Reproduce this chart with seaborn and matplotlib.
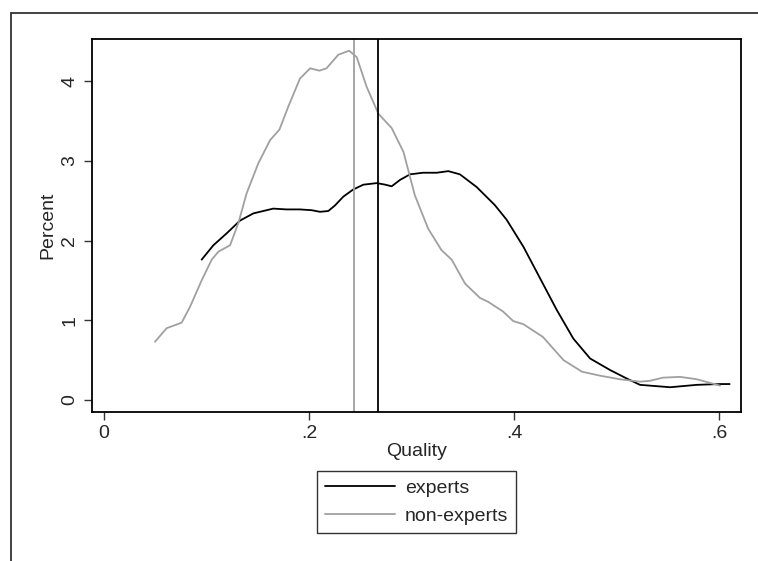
import numpy as np
import pandas as pd
import matplotlib
matplotlib.use('Agg')
import matplotlib.pyplot as plt
from matplotlib.lines import Line2D
import seaborn as sns

# --- values ---
experts_quality = [0.0952, 0.1066, 0.1196, 0.1326, 0.1456, 0.165, 0.178, 0.191, 0.2025,
                   0.2106, 0.2187, 0.2252, 0.2333, 0.243, 0.2528, 0.266, 0.2743, 0.2805,
                   0.2886, 0.2984, 0.311, 0.3244, 0.3357, 0.347, 0.3634, 0.381, 0.3926,
                   0.409, 0.425, 0.4414, 0.4576, 0.474, 0.4934, 0.5096, 0.5226, 0.552,
                   0.578, 0.6006, 0.61]
experts_percent = [1.76, 1.94, 2.09, 2.25, 2.34, 2.40, 2.39, 2.39, 2.38,
                   2.36, 2.37, 2.44, 2.55, 2.64, 2.70, 2.72, 2.70, 2.68,
                   2.76, 2.83, 2.85, 2.85, 2.87, 2.83, 2.67, 2.445, 2.26,
                   1.92, 1.53, 1.13, 0.77, 0.52, 0.376, 0.27, 0.19, 0.16,
                   0.19, 0.20, 0.20]

nonexp_quality = [0.0497, 0.061, 0.0757, 0.0839, 0.0952, 0.105, 0.1115, 0.1229, 0.131,
                  0.139, 0.1505, 0.162, 0.171, 0.1797, 0.191, 0.201, 0.21, 0.217,
                  0.2285, 0.239, 0.2464, 0.256, 0.2675, 0.2805, 0.292, 0.303, 0.316,
                  0.329, 0.339, 0.352, 0.3666, 0.3747, 0.389, 0.399, 0.409, 0.428,
                  0.448, 0.466, 0.4836, 0.503, 0.5226, 0.532, 0.545, 0.5616, 0.578,
                  0.6006]
nonexp_percent = [0.73, 0.90, 0.97, 1.17, 1.50, 1.76, 1.86, 1.94, 2.22,
                  2.59, 2.97, 3.26, 3.39, 3.68, 4.03, 4.16, 4.13, 4.16,
                  4.33, 4.38, 4.30, 3.93, 3.59, 3.41, 3.11, 2.57, 2.15,
                  1.88, 1.76, 1.46, 1.28, 1.23, 1.11, 0.99, 0.95, 0.79,
                  0.50, 0.355, 0.305, 0.26, 0.23, 0.24, 0.28, 0.29, 0.26,
                  0.18]

groups = ['experts', 'non-experts']
group_medians = [0.2675, 0.2438]
x_ticks = [0, 0.2, 0.4, 0.6]
x_tick_labels = ['0', '.2', '.4', '.6']
y_ticks = [0, 1, 2, 3, 4]

colors = {'experts': 'black', 'non-experts': '#a0a0a0'}

df = pd.concat([
    pd.DataFrame({'Quality': experts_quality, 'Percent': experts_percent, 'group': 'experts'}),
    pd.DataFrame({'Quality': nonexp_quality, 'Percent': nonexp_percent, 'group': 'non-experts'}),
], ignore_index=True)

sns.set_style('white')
plt.rcParams['font.family'] = ['Liberation Sans', 'DejaVu Sans']

fig = plt.figure(figsize=(7.58, 5.61), dpi=100)
ax = fig.add_axes([0.1214, 0.2661, 0.8566, 0.6638])

sns.lineplot(data=df, x='Quality', y='Percent', hue='group', palette=colors,
             linewidth=1.3, ax=ax, legend=False, estimator=None, sort=False)

for g, m in zip(groups, group_medians):
    ax.axvline(m, color=colors[g], linewidth=1.3)

ax.set_xlim(-0.0117, 0.6214)
ax.set_ylim(-0.147, 4.523)
ax.set_xticks(x_ticks)
ax.set_xticklabels(x_tick_labels)
ax.set_yticks(y_ticks)
ax.set_yticklabels([str(v) for v in y_ticks], rotation=90, va='center')
ax.tick_params(axis='both', which='major', direction='out', length=6, width=1,
               color='#333333', labelsize=14, bottom=True, left=True)
ax.tick_params(axis='y', pad=4)
ax.tick_params(axis='x', pad=3.5)
ax.set_xlabel('Quality', fontsize=14, labelpad=1)
ax.set_ylabel('Percent', fontsize=14, va='center')
ax.yaxis.set_label_coords(-0.068, 0.5)
for s in ax.spines.values():
    s.set_color('black')
    s.set_linewidth(1.3)

handles = [Line2D([0], [0], color=colors[g], linewidth=1.3) for g in groups]
leg = ax.legend(handles, groups, loc='upper center', bbox_to_anchor=(0.5, -0.1595),
                frameon=True, fancybox=False, edgecolor='black', fontsize=14,
                handlelength=3.6, borderpad=0.4, labelspacing=0.55, handletextpad=0.5,
                borderaxespad=0)
leg.get_frame().set_linewidth(1.0)

# outer graph-region frame (partially visible)
ytop = 1 - 12.5 / 561
xl = 11 / 758
fig.add_artist(Line2D([xl, xl], [0, ytop], transform=fig.transFigure, color='#333333', linewidth=1.3))
fig.add_artist(Line2D([xl, 1], [ytop, ytop], transform=fig.transFigure, color='#333333', linewidth=1.3))

fig.savefig('out.png', dpi=100)
